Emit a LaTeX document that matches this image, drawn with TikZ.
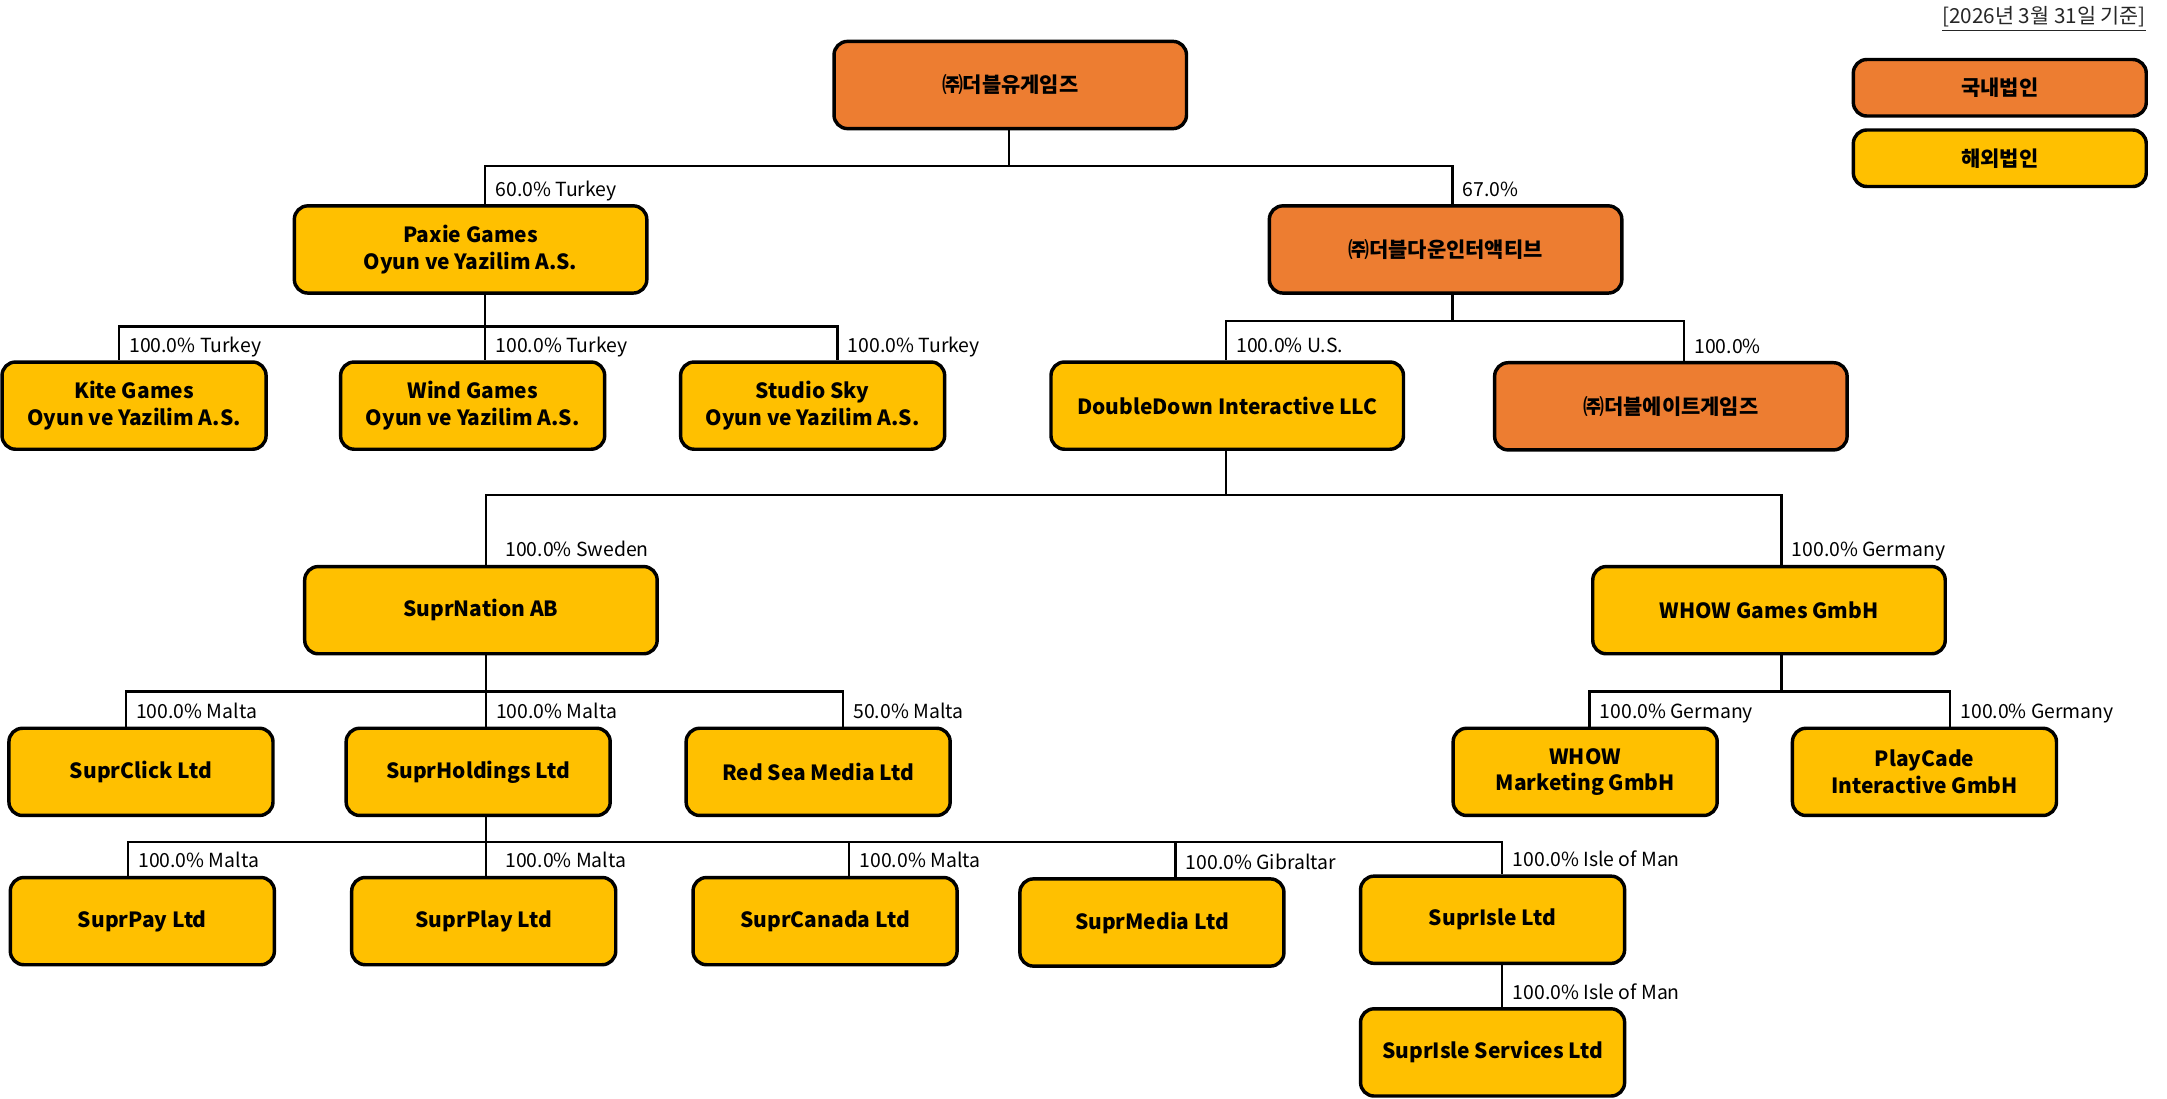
\documentclass[tikz,border=0pt]{standalone}
\usepackage{fontspec}
\setmainfont{Noto Sans CJK KR}
\usetikzlibrary{calc}
\definecolor{korange}{HTML}{ED7D31}
\definecolor{kgold}{HTML}{FFC000}
\begin{document}
\begin{tikzpicture}[x=0.0225cm, y=-0.0225cm,
    corp/.style={draw, line width=1.6pt, rounded corners=0.22cm, minimum height=1.42cm, align=center, inner sep=2pt, font=\bfseries\fontsize{9.7}{12.2}\selectfont},
    dom/.style={corp, fill=korange},
    ovs/.style={corp, fill=kgold},
    big/.style={minimum width=5.74cm},
    small/.style={minimum width=4.3cm},
    link/.style={line width=1.1pt},
    pct/.style={anchor=base west, xshift=0.15cm, yshift=0.13cm, inner sep=0pt, font=\fontsize{9}{11}\selectfont}]
    \useasboundingbox (0,0) rectangle (1568,795);

    % 범례
    \node[anchor=east, inner sep=0pt, text=black!85, font=\fontsize{9.6}{11}\selectfont] (asof) at (1553,14) {\underline{[2026년 3월 31일 기준]}};
    \node[dom, minimum width=4.77cm, minimum height=0.92cm] (legdom) at (1447,63.5) {국내법인};
    \node[ovs, minimum width=4.77cm, minimum height=0.92cm] (legovs) at (1447,114.5) {해외법인};

    % 법인
    \node[dom, big] (wgames) at (731,61.5) {㈜더블유게임즈};
    \node[ovs, big] (paxie) at (340.5,180.5) {Paxie Games\\Oyun ve Yazilim A.S.};
    \node[dom, big] (ddown) at (1046,180.5) {㈜더블다운인터액티브};
    \node[ovs, small] (kite) at (97,293.5) {Kite Games\\Oyun ve Yazilim A.S.};
    \node[ovs, small] (wind) at (342,293.5) {Wind Games\\Oyun ve Yazilim A.S.};
    \node[ovs, small] (sky) at (588,293.5) {Studio Sky\\Oyun ve Yazilim A.S.};
    \node[ovs, big] (ddi) at (888,293.5) {DoubleDown Interactive LLC};
    \node[dom, big] (deight) at (1209,294) {㈜더블에이트게임즈};
    \node[ovs, big] (suprnation) at (348,441.5) {SuprNation AB};
    \node[ovs, big] (whow) at (1280,441.5) {WHOW Games GmbH};
    \node[ovs, small] (click) at (102,558.5) {SuprClick Ltd};
    \node[ovs, small] (holdings) at (346,558.5) {SuprHoldings Ltd};
    \node[ovs, small] (redsea) at (592,558.5) {Red Sea Media Ltd};
    \node[ovs, small] (whowmkt) at (1147,558.5) {WHOW\\Marketing GmbH};
    \node[ovs, small] (playcade) at (1392.5,558.5) {PlayCade\\Interactive GmbH};
    \node[ovs, small] (pay) at (103,666.5) {SuprPay Ltd};
    \node[ovs, small] (play) at (350,666.5) {SuprPlay Ltd};
    \node[ovs, small] (canada) at (597,666.5) {SuprCanada Ltd};
    \node[ovs, small] (media) at (833.5,667.5) {SuprMedia Ltd};
    \node[ovs, small] (isle) at (1080,665.5) {SuprIsle Ltd};
    \node[ovs, small] (islesvc) at (1080,761.5) {SuprIsle Services Ltd};

    % 지분 연결선
    \draw[link] ($(wgames.south)+(-1,0)$) -- ++(0,26) -| ($(paxie.north)+(10.5,0)$) node[pct] {60.0\% Turkey};
    \draw[link] ($(wgames.south)+(-1,0)$) -- ++(0,26) -| ($(ddown.north)+(5,0)$) node[pct] {67.0\%};

    \draw[link] ($(paxie.south)+(10.5,0)$) -- ++(0,23) -| ($(kite.north)+(-11,0)$) node[pct] {100.0\% Turkey};
    \draw[link] ($(paxie.south)+(10.5,0)$) -- ++(0,23) -| ($(wind.north)+(9,0)$) node[pct] {100.0\% Turkey};
    \draw[link] ($(paxie.south)+(10.5,0)$) -- ++(0,23) -| ($(sky.north)+(18,0)$) node[pct] {100.0\% Turkey};

    \draw[link] ($(ddown.south)+(5,0)$) -- ++(0,19) -| ($(ddi.north)+(-1,0)$) node[pct] {100.0\% U.S.};
    \draw[link] ($(ddown.south)+(5,0)$) -- ++(0,19) -| ($(deight.north)+(9.5,0)$) node[pct] {100.0\%};

    \draw[link] ($(ddi.south)+(-1,0)$) -- ++(0,32) -| ($(suprnation.north)+(3.5,0)$) node[pct, xshift=0.15cm] {100.0\% Sweden};
    \draw[link] ($(ddi.south)+(-1,0)$) -- ++(0,32) -| ($(whow.north)+(9,0)$) node[pct] {100.0\% Germany};

    \draw[link] ($(suprnation.south)+(3.5,0)$) -- ++(0,26) -| ($(click.north)+(-11,0)$) node[pct] {100.0\% Malta};
    \draw[link] ($(suprnation.south)+(3.5,0)$) -- ++(0,26) -| ($(holdings.north)+(5.5,0)$) node[pct] {100.0\% Malta};
    \draw[link] ($(suprnation.south)+(3.5,0)$) -- ++(0,26) -| ($(redsea.north)+(18,0)$) node[pct] {50.0\% Malta};

    \draw[link] ($(whow.south)+(9,0)$) -- ++(0,26) -| ($(whowmkt.north)+(3,0)$) node[pct] {100.0\% Germany};
    \draw[link] ($(whow.south)+(9,0)$) -- ++(0,26) -| ($(playcade.north)+(18.5,0)$) node[pct] {100.0\% Germany};

    \draw[link] ($(holdings.south)+(5.5,0)$) -- ++(0,18) -| ($(pay.north)+(-10.5,0)$) node[pct] {100.0\% Malta};
    \draw[link] ($(holdings.south)+(5.5,0)$) -- ++(0,18) -| ($(play.north)+(1.5,0)$) node[pct, xshift=0.15cm] {100.0\% Malta};
    \draw[link] ($(holdings.south)+(5.5,0)$) -- ++(0,18) -| ($(canada.north)+(17.5,0)$) node[pct] {100.0\% Malta};
    \draw[link] ($(holdings.south)+(5.5,0)$) -- ++(0,18) -| ($(media.north)+(17,0)$) node[pct] {100.0\% Gibraltar};
    \draw[link] ($(holdings.south)+(5.5,0)$) -- ++(0,18) -| ($(isle.north)+(7,0)$) node[pct] {100.0\% Isle of Man};

    \draw[link] ($(isle.south)+(7,0)$) -- ($(islesvc.north)+(7,0)$) node[pct] {100.0\% Isle of Man};
\end{tikzpicture}
\end{document}
